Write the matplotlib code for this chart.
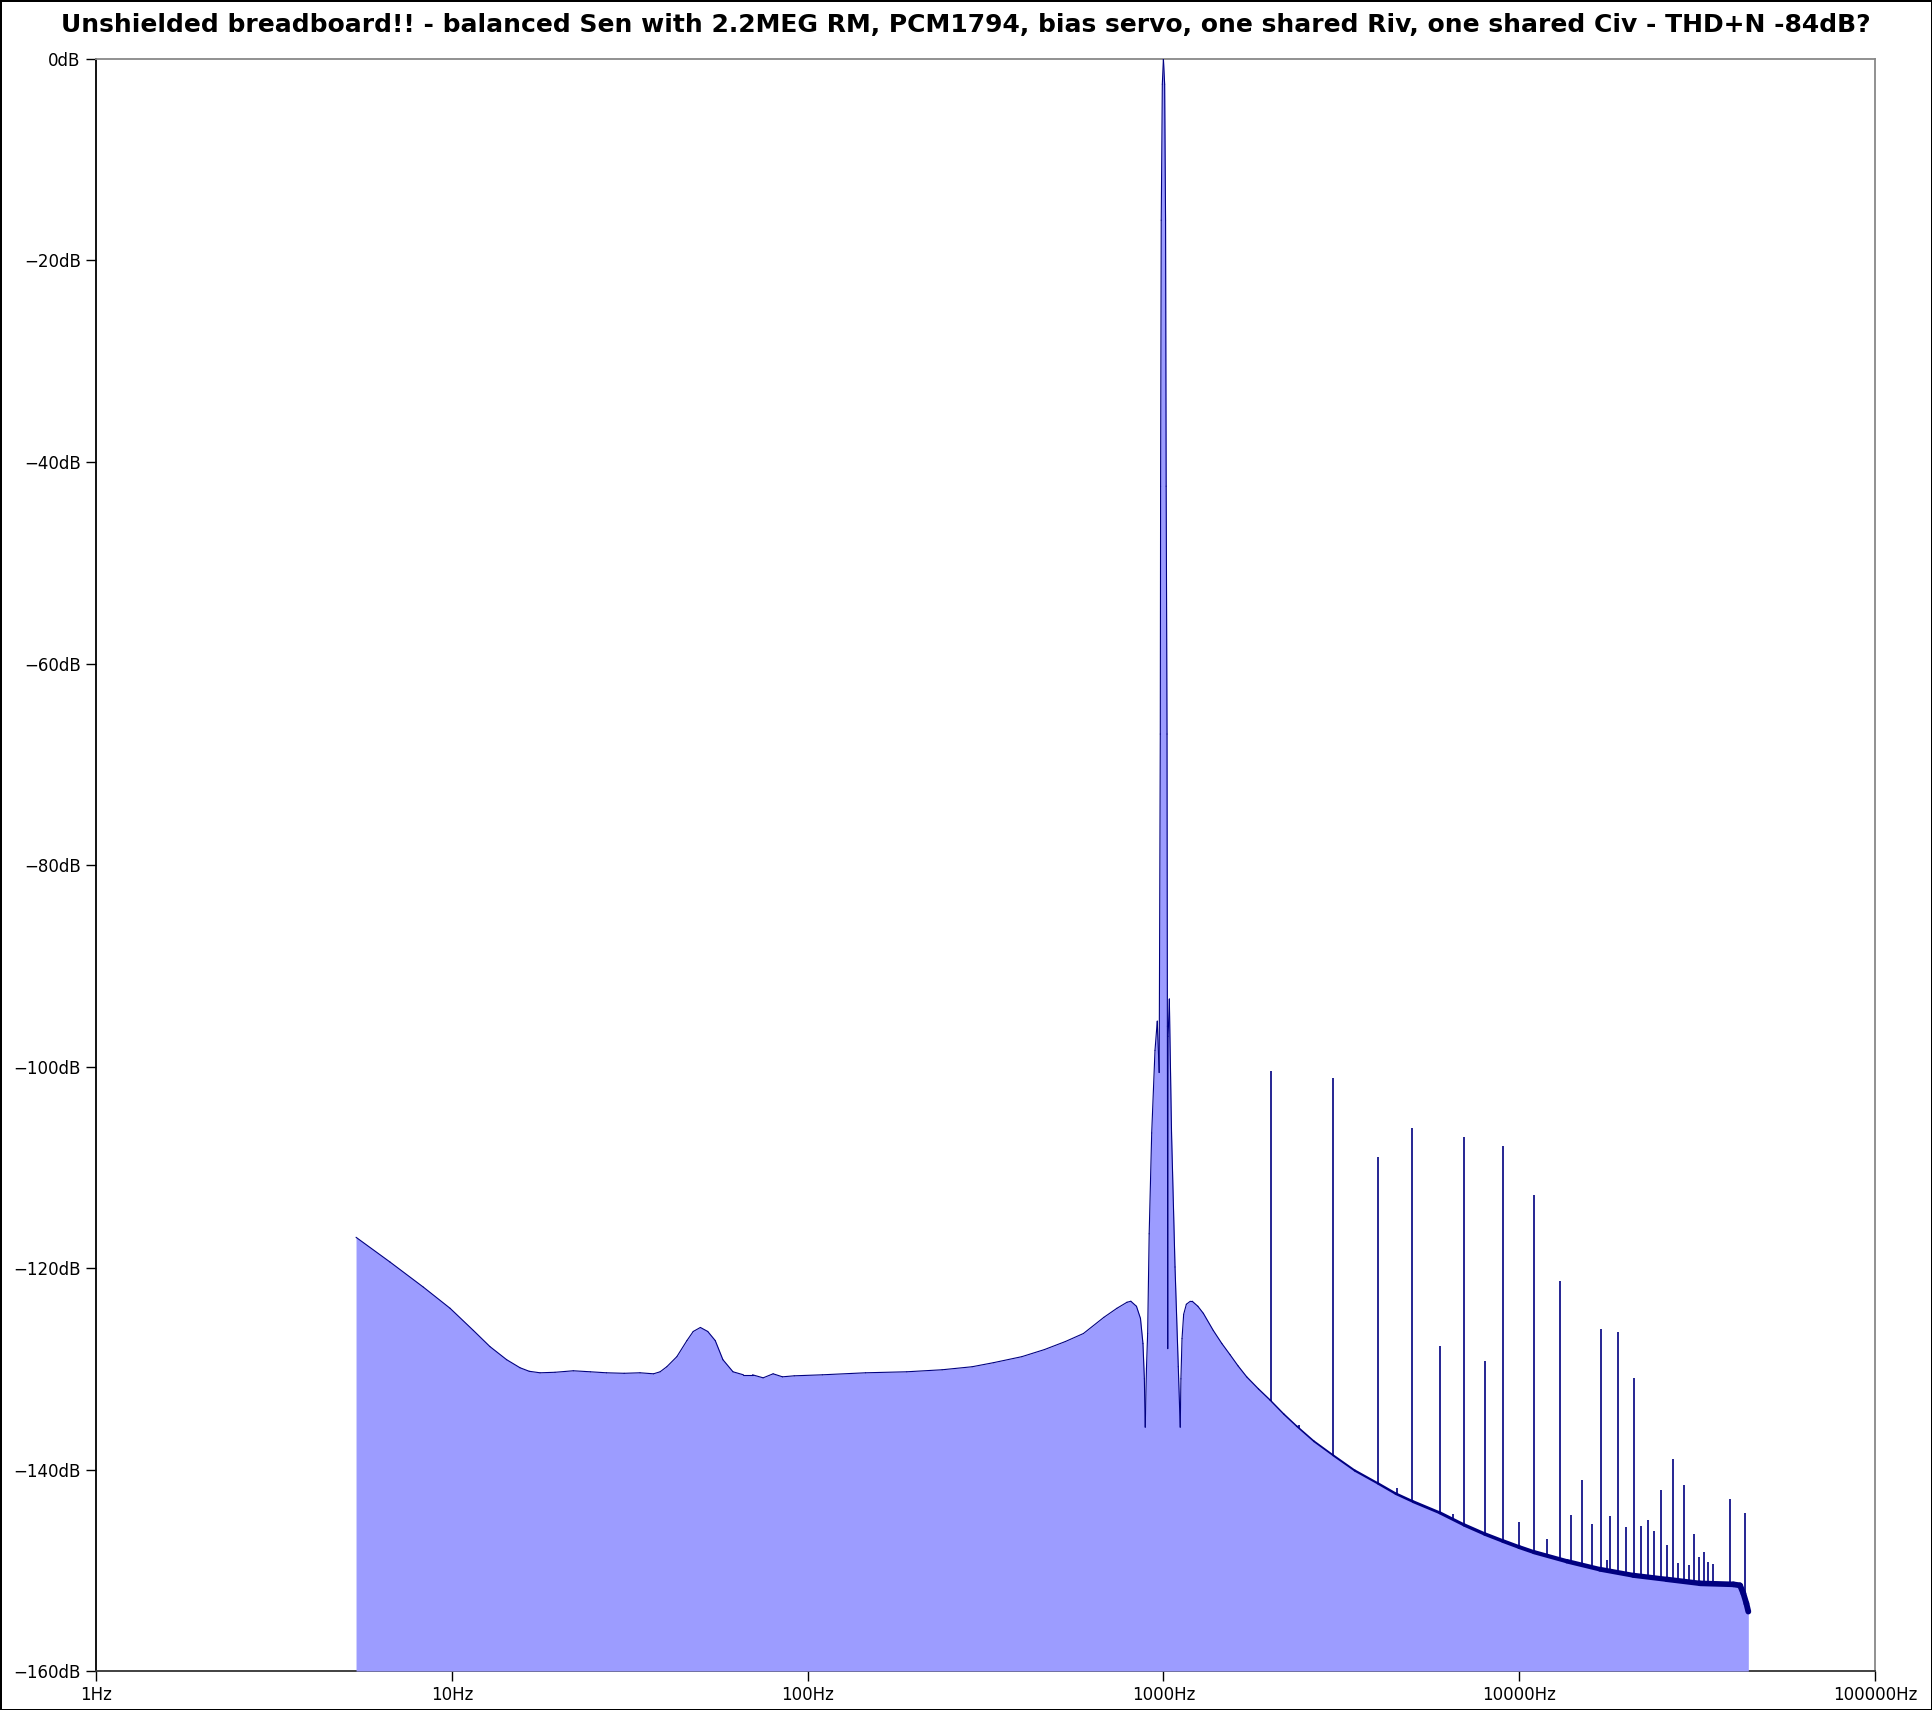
import numpy as np
import matplotlib
matplotlib.use("Agg")
import matplotlib.pyplot as plt
from matplotlib.collections import LineCollection
from matplotlib.ticker import FixedLocator, NullLocator, FuncFormatter

TITLE = ("Unshielded breadboard!! - balanced Sen with 2.2MEG RM, PCM1794, bias servo, "
         "one shared Riv, one shared Civ - THD+N -84dB?")

# noise floor + fundamental
floor_hz = [5.38, 6.70, 8.32, 9.89, 11.5, 12.8, 14.26, 15.55, 16.5, 17.7, 19.5, 21.95,
            24.5, 27.2, 30.5, 33.8, 36.9, 38.5, 40.2, 42.9, 45.8, 47.7, 49.96, 52.4,
            55.0, 57.8, 61.7, 66, 70, 75, 80, 85, 91.7, 110, 145.5, 190, 238.8, 290,
            332.6, 400, 462.7, 530, 596, 680, 740, 790, 810, 840, 862, 876, 884, 889,
            896, 903, 912, 927, 947, 961, 973, 980, 982, 986, 993, 1000, 1008, 1014,
            1018, 1023.6, 1026, 1028.5, 1031, 1039, 1054, 1078, 1101, 1115,
            1120, 1128, 1140, 1160, 1190, 1205, 1250, 1295, 1381, 1460, 1539, 1620,
            1714, 1850, 1994, 2180, 2370, 2650, 3003, 3450, 4018, 4500, 5040, 5985,
            7000, 8000, 9000, 10000, 11000, 13600, 16870, 20930, 25970, 32220,
            39990, 41750, 42660, 43500, 44050]
floor_db = [-116.95, -119.4, -121.9, -124.0, -126.2, -127.8, -129.1, -129.9, -130.25, -130.4, -130.35, -130.2,
            -130.3, -130.4, -130.45, -130.4, -130.5, -130.3, -129.8, -128.8, -127.2, -126.3, -125.9, -126.3,
            -127.2, -129.1, -130.3, -130.6, -130.6, -130.9, -130.5, -130.8, -130.7, -130.6, -130.4, -130.3, -130.1, -129.8,
            -129.4, -128.8, -128.1, -127.3, -126.5, -124.9, -124.0, -123.4, -123.3, -123.8, -125.0, -127.5, -131.0, -135.8,
            -130.0, -126.5, -116.6, -106.6, -98.4, -95.5, -100.6, -67.0, -42.4, -16.0, -2.5, 0.0, -2.5, -16.0,
            -42.4, -67.0, -96.0, -128.0, -97.0, -93.3, -106.6, -119.9, -129.8, -135.8,
            -131.0, -127.0, -124.6, -123.6, -123.3, -123.3, -123.8, -124.5, -126.2, -127.5, -128.6, -129.7,
            -130.8, -132.0, -133.1, -134.5, -135.7, -137.2, -138.6, -140.1, -141.4, -142.4, -143.2, -144.3,
            -145.5, -146.4, -147.1, -147.7, -148.2, -149.1, -149.9, -150.5, -150.9, -151.3,
            -151.4, -151.5, -152.3, -153.3, -154.1]

# harmonic / spurious spikes above the floor
spike_hz = [2000, 2400, 3000, 4000, 4530, 5000, 6000, 6530, 7000, 8000, 9000, 10000,
            11000, 12000, 13000, 14000, 15000, 16000, 17000, 17600, 18000, 19000,
            20000, 21000, 22000, 23000, 24000, 25000, 26000, 27000, 28000, 29000,
            30000, 31000, 32000, 33000, 34000, 35000, 39000, 43000]
spike_db = [-100.4, -135.6, -101.1, -109.0, -141.8, -106.1, -127.7, -144.4, -107.0, -129.2, -107.9, -145.2,
            -112.8, -146.9, -121.3, -144.5, -141.0, -145.4, -126.1, -149.0, -144.6, -126.4,
            -145.7, -130.9, -145.6, -145.0, -146.1, -142.0, -147.5, -139.0, -149.3, -141.5,
            -149.5, -146.4, -148.7, -148.2, -149.2, -149.4, -142.9, -144.3]

xticks = [1, 10, 100, 1000, 10000, 100000]
yticks = [0, -20, -40, -60, -80, -100, -120, -140, -160]

FILL = "#9c9cff"
LINE = "#000080"

fig = plt.figure(figsize=(19.32, 17.10), dpi=100, edgecolor="black", linewidth=2)
ax = fig.add_axes([0.0497, 0.0228, 0.9208, 0.9427])

# spikes first, the opaque fill hides their lower part
ax.vlines(spike_hz, -160, spike_db, color=LINE, lw=1.2, zorder=2)
ax.fill_between(floor_hz, floor_db, -160, color=FILL, lw=0, zorder=3)

# floor line gets thicker where the FFT bins pile up (high freq noise band)
pts = np.column_stack([floor_hz, floor_db])
segs = np.stack([pts[:-1], pts[1:]], axis=1)
mid = np.log10(np.sqrt(np.array(floor_hz[:-1]) * np.array(floor_hz[1:])))
widths = np.interp(mid, [3.2, 3.5, 3.8, 4.0, 4.3, 4.65], [0.8, 1.4, 2.2, 2.8, 3.6, 4.2])
lc = LineCollection(segs, colors=LINE, linewidths=widths, capstyle="round",
                    joinstyle="round", zorder=4)
ax.add_collection(lc)

ax.set_xscale("log")
ax.set_xlim(1, 100000)
ax.set_ylim(-160, 0)

ax.xaxis.set_major_locator(FixedLocator(xticks))
ax.xaxis.set_minor_locator(NullLocator())
ax.xaxis.set_major_formatter(FuncFormatter(lambda v, p: "%dHz" % round(v)))
ax.yaxis.set_major_locator(FixedLocator(yticks))
ax.yaxis.set_major_formatter(FuncFormatter(lambda v, p: ("%ddB" % round(v)).replace("-", "\u2212")))
ax.tick_params(axis="both", which="major", direction="out", length=7, width=1,
               pad=4, labelsize=12, top=False, right=False)

ax.spines["left"].set_color("black")
ax.spines["bottom"].set_color("#333333")
ax.spines["top"].set_color("#888888")
ax.spines["right"].set_color("#888888")
for s in ax.spines.values():
    s.set_linewidth(1.3)

fig.text(0.5, 0.9856, TITLE, ha="center", va="center", fontsize=18, fontweight="bold")

fig.savefig("out.png", dpi=100)
